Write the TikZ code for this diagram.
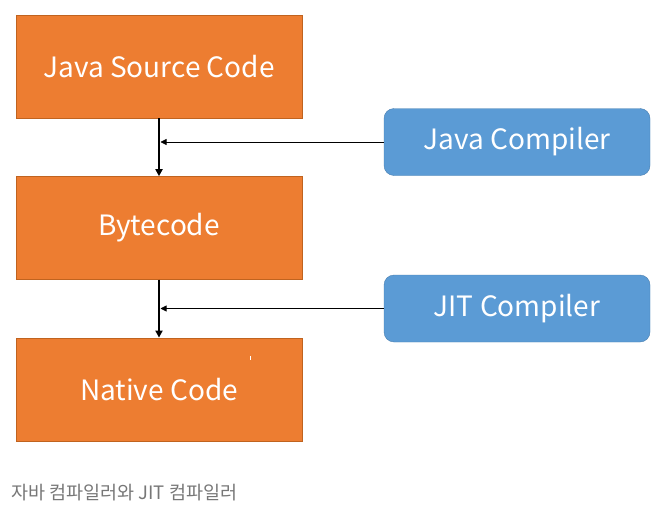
\documentclass[tikz,border=0pt]{standalone}
\usepackage{fontspec}
\setmainfont{Noto Sans CJK KR}
\usetikzlibrary{positioning,arrows.meta}
\definecolor{StageOrange}{HTML}{ED7D31}
\definecolor{StageEdge}{HTML}{C0631F}
\definecolor{ToolBlue}{HTML}{5B9BD5}
\definecolor{ToolEdge}{HTML}{4A7FB0}
\definecolor{NoteGray}{HTML}{777777}

\begin{document}
\begin{tikzpicture}[x=1pt,y=-1pt,node distance=58pt and 1cm,
  every node/.style={align=center,inner sep=0pt},
  stage/.style={draw=StageEdge,fill=StageOrange,text=white,font=\fontsize{28}{33}\selectfont,minimum width=286pt,minimum height=103pt},
  tool/.style={draw=ToolEdge,fill=ToolBlue,text=white,rounded corners=10pt,font=\fontsize{28}{33}\selectfont,minimum width=266pt,minimum height=67pt}]
  \useasboundingbox (0,0) rectangle (662,530);
  \node[stage] (source) at (159,66.5) {Java Source Code};
  \node[stage,below=of source] (bytecode) {Bytecode};
  \node[stage,below=of bytecode] (native) {Native Code};
  \node[tool] (javac) at (517,142) {Java Compiler};
  \node[tool] (jit) at (517,308.5) {JIT Compiler};
  \draw[-{Triangle[length=7pt,width=7pt]},line width=2pt] (source) -- (bytecode);
  \draw[-{Triangle[length=7pt,width=7pt]},line width=2pt] (bytecode) -- (native);
  \draw[-{Triangle[length=6pt,width=6pt]},line width=0.8pt] (javac.west) -- ([xshift=1.5pt]javac.west -| source.south);
  \draw[-{Triangle[length=6pt,width=6pt]},line width=0.8pt] (jit.west) -- ([xshift=1.5pt]jit.west -| bytecode.south);
  \draw[white,line width=1pt] (250,356) -- (250,360);
  \node[anchor=west,text=NoteGray,font=\fontsize{18.5}{22}\selectfont] (caption) at (11,493) {자바 컴파일러와 JIT 컴파일러};
\end{tikzpicture}
\end{document}
